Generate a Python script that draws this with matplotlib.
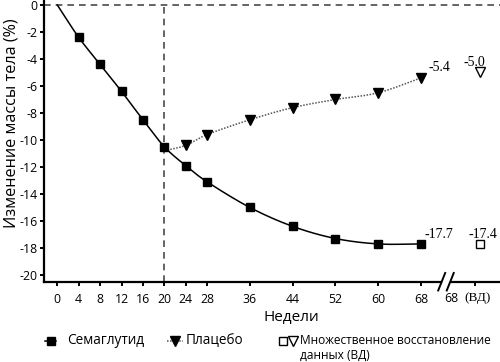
import numpy as np
import matplotlib
matplotlib.use("Agg")
import matplotlib.pyplot as plt
from matplotlib.lines import Line2D

# ---------------- data ----------------
weeks_sema = [0, 4, 8, 12, 16, 20, 24, 28, 36, 44, 52, 60, 68]
sema = [0.0, -2.4, -4.4, -6.4, -8.5, -10.5, -11.9, -13.1, -15.0, -16.4, -17.3, -17.7, -17.7]
weeks_plac = [20, 24, 28, 36, 44, 52, 60, 68]
plac = [-10.8, -10.4, -9.6, -8.5, -7.6, -7.0, -6.5, -5.4]
imp_sema = -17.7
imp_plac = -5.0
lbl_sema_end = "-17.7"
lbl_plac_end = "-5.4"
lbl_imp_sema = "-17.4"
lbl_imp_plac = "-5.0"
xticks = [0, 4, 8, 12, 16, 20, 24, 28, 36, 44, 52, 60, 68]
yticks = [0, -2, -4, -6, -8, -10, -12, -14, -16, -18, -20]
ylabel = "Изменение массы тела (%)"
xlabel = "Недели"
leg_labels = ["Семаглутид", "Плацебо", "Множественное восстановление", "данных (ВД)"]

# ---------------- layout constants ----------------
IMP_TICK = 78
IMP_X = 79
W, H = 500, 362

plt.rcParams["font.family"] = ["Open Sans", "DejaVu Sans"]
plt.rcParams["axes.unicode_minus"] = False


def catmull(x, y, n=24):
    pts = np.column_stack([np.asarray(x, float), np.asarray(y, float)])
    P = np.vstack([2 * pts[0] - pts[1], pts, 2 * pts[-1] - pts[-2]])
    out = []
    t = np.linspace(0, 1, n, endpoint=False)[:, None]
    for i in range(1, len(P) - 2):
        p0, p1, p2, p3 = P[i - 1], P[i], P[i + 1], P[i + 2]
        seg = 0.5 * ((2 * p1) + (-p0 + p2) * t + (2 * p0 - 5 * p1 + 4 * p2 - p3) * t ** 2
                     + (-p0 + 3 * p1 - 3 * p2 + p3) * t ** 3)
        out.append(seg)
    out.append(pts[-1:])
    return np.vstack(out)


fig = plt.figure(figsize=(W / 100, H / 100), dpi=100)
ax = fig.add_axes([44 / W, 1 - 282 / H, 456 / W, 282 / H])
ax.set_xlim(-2.49, 82.75)
ax.set_ylim(-20.52, 0.37)

# reference lines
ax.axhline(0, color="#4a4a4a", lw=1.2, dashes=(4, 3), zorder=1)
ax.vlines(20, -20.52, 0, color="#4a4a4a", lw=1.2, linestyles=[(0, (4, 3))], zorder=1)

# semaglutide
c = catmull(weeks_sema, sema)
ax.plot(c[:, 0], c[:, 1], color="black", lw=1.1, zorder=3)
ax.plot(weeks_sema[1:], sema[1:], ls="none", marker="s", ms=6.2, color="black", zorder=5)

# placebo
cp = catmull(weeks_plac, plac)
ax.plot(cp[:, 0], cp[:, 1], color="#555555", lw=1.1, ls=(0, (1, 1)), zorder=2)
ax.plot(weeks_plac[1:], plac[1:], ls="none", marker="v", ms=7, color="black", zorder=4)

# imputed (open markers)
ax.plot([IMP_X], [imp_sema], ls="none", marker="s", ms=6.2, mfc="white", mec="black", mew=1.0, zorder=5)
ax.plot([IMP_X], [imp_plac], ls="none", marker="v", ms=7, mfc="white", mec="black", mew=1.0, zorder=5)

serif = dict(family="Liberation Serif", fontsize=10, ha="center", va="center")
ax.annotate(lbl_sema_end, (weeks_sema[-1], sema[-1]), xytext=(13, 6.5), textcoords="offset points", **serif)
ax.annotate(lbl_plac_end, (weeks_plac[-1], plac[-1]), xytext=(13.5, 7.2), textcoords="offset points", **serif)
ax.annotate(lbl_imp_sema, (IMP_X, imp_sema), xytext=(2, 6.5), textcoords="offset points", **serif)
ax.annotate(lbl_imp_plac, (IMP_X, imp_plac), xytext=(-4, 7.2), textcoords="offset points", **serif)

# spines
for s in ["top", "right"]:
    ax.spines[s].set_visible(False)
ax.spines["left"].set_linewidth(1.6)
ax.spines["bottom"].set_linewidth(1.6)
ax.spines["bottom"].set_bounds(-2.49, 71.8)
tx = ax.get_xaxis_transform()
ax.plot([73.4, 82.75], [0, 0], color="black", lw=1.6, transform=tx, clip_on=False, solid_capstyle="butt")
ax.plot([71.2, 72.5], [-0.03, 0.032], color="black", lw=1.4, transform=tx, clip_on=False)
ax.plot([72.8, 74.1], [-0.03, 0.032], color="black", lw=1.4, transform=tx, clip_on=False)

# ticks
ax.set_yticks(yticks)
ax.set_yticklabels([str(v) for v in yticks])
ax.set_xticks(xticks + [IMP_TICK])
ax.set_xticklabels([str(v) for v in xticks] + [""])
ax.tick_params(axis="both", direction="out", length=3, width=1.4, labelsize=8.8, colors="black")
ax.tick_params(axis="x", pad=5)
ax.tick_params(axis="y", pad=1.5)
ax.text(74.9, -0.057, "68", transform=tx, ha="right", va="center", fontsize=8.8)
ax.text(76.1, -0.057, "(ВД)", transform=tx, ha="left", va="center", fontsize=9.5,
        family="Liberation Serif")

# axis labels
fig.text(291 / W, 1 - 318 / H, xlabel, ha="center", va="center", fontsize=11)
fig.text(12 / W, 1 - 123 / H, ylabel, ha="center", va="center", rotation=90, fontsize=11.6)

# legend (manual)
def fx(p):
    return p / W


def fy(p):
    return 1 - p / H


ry1, ry2 = 341, 355
fig.add_artist(Line2D([fx(45), fx(56)], [fy(ry1)] * 2, color="black", lw=1.1, transform=fig.transFigure))
fig.add_artist(Line2D([fx(51)], [fy(ry1)], marker="s", ms=6.2, color="black", transform=fig.transFigure))
fig.text(fx(67), fy(ry1), leg_labels[0], ha="left", va="center", fontsize=9.8)
fig.add_artist(Line2D([fx(167), fx(183)], [fy(ry1)] * 2, color="#555555", lw=1.1, ls=(0, (1, 1)),
                      transform=fig.transFigure))
fig.add_artist(Line2D([fx(175)], [fy(ry1)], marker="v", ms=7, color="black", transform=fig.transFigure))
fig.text(fx(186), fy(ry1), leg_labels[1], ha="left", va="center", fontsize=9.8)
fig.add_artist(Line2D([fx(283)], [fy(ry1)], marker="s", ms=6.0, mfc="white", mec="black", mew=1.0,
                      transform=fig.transFigure))
fig.add_artist(Line2D([fx(293)], [fy(ry1)], marker="v", ms=6.5, mfc="white", mec="black", mew=1.0,
                      transform=fig.transFigure))
fig.text(fx(300), fy(ry1), leg_labels[2], ha="left", va="center", fontsize=8.6)
fig.text(fx(300), fy(ry2), leg_labels[3], ha="left", va="center", fontsize=8.6)

fig.savefig("out.png", dpi=100)
